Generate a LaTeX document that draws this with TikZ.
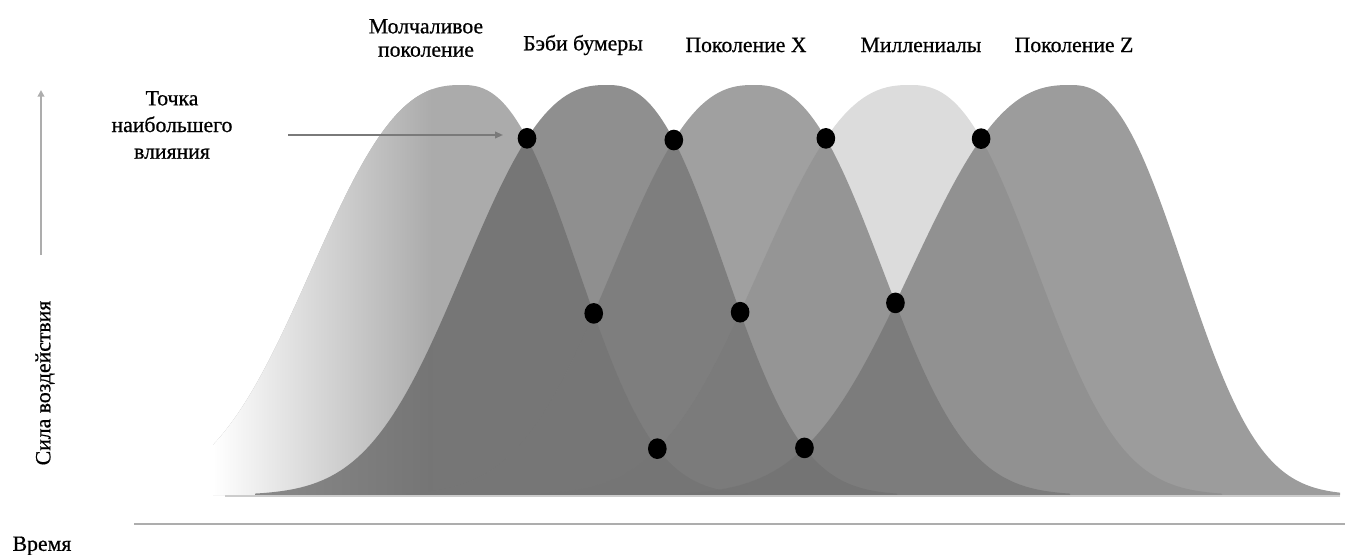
\documentclass[tikz,border=0pt]{standalone}
\usepackage{fontspec}
\setmainfont{Liberation Serif}
\newfontfamily\lblfont[FakeBold=0.7]{Liberation Serif}
\usetikzlibrary{shapes.geometric,arrows.meta}
\definecolor{gSilent}{gray}{0.53}
\definecolor{gSilentAlone}{gray}{0.67}
\definecolor{gBoomer}{gray}{0.373}
\definecolor{gX}{gray}{0.467}
\definecolor{gMill}{gray}{0.804}
\definecolor{gZ}{gray}{0.447}
\definecolor{axisgray}{gray}{0.68}
\definecolor{ptrgray}{gray}{0.48}
\definecolor{bottomgray}{gray}{0.80}
% p, L, R, xmin, xmax
\newcommand\bellpath[5]{(#4,495) -- plot[domain=#4:#1,samples=80] (\x,{495-410/exp((abs(#1-\x)/#2)^2*sqrt(abs(#1-\x)/#2))}) -- plot[domain=#1:#5,samples=80] (\x,{495-410/exp((abs(\x-#1)/#3)^2*sqrt(abs(\x-#1)/#3))}) -- (#5,495) -- cycle}
% name, p_i, R_i, p_j, L_j
\newcommand\crossdot[5]{%
 \pgfmathsetmacro\cdf{#3/(#3+#5)}%
 \pgfmathsetmacro\cdx{#2+\cdf*(#4-#2)}%
 \pgfmathsetmacro\cdu{abs(\cdx-#2)/#3}%
 \pgfmathsetmacro\cdy{495-410/exp(\cdu*\cdu*sqrt(\cdu))}%
 \node[dotnode] (#1) at (\cdx,\cdy) {};}
\begin{document}
\begin{tikzpicture}[x=0.75pt,y=-0.75pt,
  curve/.style={fill opacity=0.7},
  dotnode/.style={ellipse,fill=black,inner sep=0pt,minimum width=14pt,minimum height=15.5pt},
  lbl/.style={font=\lblfont\fontsize{16.3}{17.5}\selectfont,inner sep=0pt,align=center},
  axisline/.style={draw=axisgray,line width=1.4pt},
  pointer/.style={draw=ptrgray,line width=1.3pt,-{Triangle[length=6pt,width=5pt]}}]
\useasboundingbox (0,0) rectangle (1345,554);
% curves (millennials lowest in stacking order)
\fill[gMill,curve] \bellpath{910}{185}{156}{540}{1222};
\fill[gSilent,curve] \bellpath{462}{185}{143}{213}{748};
\begin{scope}
  \clip \bellpath{462}{185}{143}{213}{748};
  \shade[left color=white,right color=gSilentAlone] (213,60) rectangle (432,500);
\end{scope}
\fill[gBoomer,curve] \bellpath{607}{176}{145}{255}{897};
\fill[gX,curve] \bellpath{754}{174}{158}{406}{1070};
\fill[gZ,curve] \bellpath{1070}{195}{140}{680}{1340};
\coordinate (bl) at (225,496);
\coordinate (br) at (1340,496);
\draw[draw=bottomgray,line width=0.8pt] (bl) -- (br);
% intersection dots
\crossdot{d12}{462}{143}{607}{176}
\crossdot{d23}{607}{145}{754}{174}
\crossdot{d34}{754}{158}{910}{185}
\crossdot{d45}{910}{156}{1070}{195}
\crossdot{d13}{462}{143}{754}{174}
\crossdot{d24}{607}{145}{910}{185}
\crossdot{d35}{754}{158}{1070}{195}
\crossdot{d14}{462}{143}{910}{185}
\crossdot{d25}{607}{145}{1070}{195}
% labels
\node[lbl] (silent) at (426,38) {Молчаливое\\поколение};
\node[lbl] (boomers) at (583,45) {Бэби бумеры};
\node[lbl] (genx) at (746,45) {Поколение X};
\node[lbl] (mill) at (921,45) {Миллениалы};
\node[lbl] (genz) at (1074,45) {Поколение Z};
\node[lbl,font=\lblfont\fontsize{16.3}{20}\selectfont] (peak) at (172,125) {Точка\\наибольшего\\влияния};
\node[lbl,rotate=90] (force) at (45,383) {Сила воздействия};
\node[lbl] (time) at (42,546) {Время};
% axes and pointer
\coordinate (yb) at (41,255);
\coordinate (yt) at (41,90);
\draw[axisline,-{Triangle[length=5pt,width=5pt]}] (yb) -- (yt);
\coordinate (xl) at (134,524);
\coordinate (xr) at (1345,524);
\draw[axisline,line width=2pt] (xl) -- (xr);
\coordinate (ps) at (288,135);
\coordinate (pe) at (503,135);
\draw[pointer] (ps) -- (pe);
\end{tikzpicture}
\end{document}
